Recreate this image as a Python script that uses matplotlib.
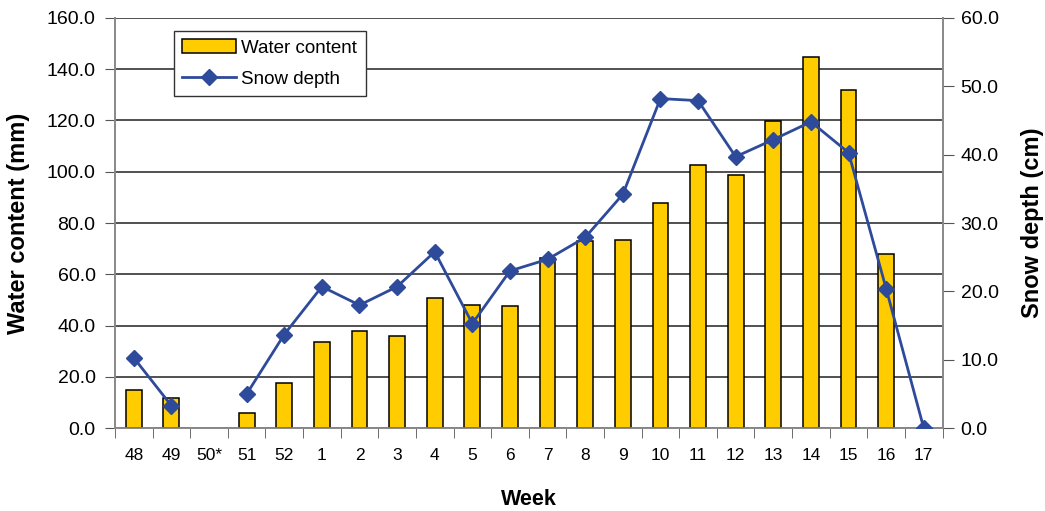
import numpy as np
import matplotlib.pyplot as plt
from matplotlib.ticker import FixedLocator, FormatStrFormatter

plt.rcParams['font.family'] = ['Liberation Sans', 'DejaVu Sans']

weeks = ['48', '49', '50*', '51', '52', '1', '2', '3', '4', '5', '6', '7',
         '8', '9', '10', '11', '12', '13', '14', '15', '16', '17']
water = [14.8, 11.6, np.nan, 6.0, 17.8, 33.7, 38.1, 36.0, 50.9, 47.9, 47.5,
         66.2, 73.0, 73.5, 87.9, 102.8, 98.9, 119.8, 144.8, 132.0, 67.8, 0.0]
snow = [10.3, 3.3, np.nan, 5.0, 13.7, 20.7, 18.0, 20.7, 25.8, 15.3, 23.0,
        24.7, 27.9, 34.2, 48.2, 47.9, 39.7, 42.2, 44.8, 40.3, 20.4, 0.0]

x = np.arange(len(weeks))

fig = plt.figure(figsize=(10.45, 5.11), dpi=100)
ax = fig.add_axes([0.110, 0.162, 0.792, 0.803])
ax2 = ax.twinx()

bars = ax.bar(x, water, width=0.42, color='#FFCC00', edgecolor='black',
              linewidth=1.1, label='Water content', zorder=3)
line, = ax2.plot(x, snow, color='#2E4A9A', lw=2.0, marker='D', ms=8.5,
                 label='Snow depth', zorder=4)

ax.set_xlim(-0.5, len(weeks) - 0.5)
ax.set_ylim(0, 160)
ax2.set_ylim(0, 60)
ax.set_yticks(np.arange(0, 161, 20))
ax2.set_yticks(np.arange(0, 61, 10))
ax.yaxis.set_major_formatter(FormatStrFormatter('%.1f'))
ax2.yaxis.set_major_formatter(FormatStrFormatter('%.1f'))

ax.grid(axis='y', color='#222222', lw=1.1, zorder=0)
ax.set_axisbelow(True)

ax.set_xticks(x)
ax.set_xticklabels(weeks, fontsize=12.5)
ax.tick_params(axis='x', which='major', length=0, pad=14)
ax.xaxis.set_minor_locator(FixedLocator(np.arange(-0.5, len(weeks), 1)))
ax.tick_params(axis='x', which='minor', length=7, color='#555555')
ax.tick_params(axis='y', labelsize=14, length=7, pad=7, color='#555555')
ax2.tick_params(axis='y', labelsize=14, length=8, pad=5, color='#555555')

for a in (ax, ax2):
    for s in a.spines.values():
        s.set_color('#888888')
        s.set_linewidth(1.2)
ax.spines['top'].set_visible(False)
ax2.spines['top'].set_visible(False)

ax.set_xlabel('Week', fontsize=15.5, fontweight='bold', labelpad=19)
ax.set_ylabel('Water content (mm)', fontsize=17, fontweight='bold', labelpad=12)
ax2.set_ylabel('Snow depth (cm)', fontsize=17, fontweight='bold', labelpad=16)

leg = ax2.legend([bars, line], ['Water content', 'Snow depth'],
                 loc='upper left', bbox_to_anchor=(0.0713, 0.968),
                 borderaxespad=0, fontsize=13.5, frameon=True, fancybox=False,
                 edgecolor='#333333', framealpha=1, handlelength=2.85,
                 handletextpad=0.3, borderpad=0.45, labelspacing=0.75)
leg.get_frame().set_linewidth(1.0)

fig.savefig('out.png', dpi=100)
